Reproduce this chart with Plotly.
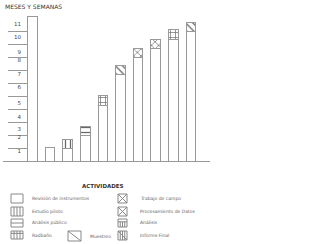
import plotly.graph_objects as go

# ---------------- data ----------------
activities = ["", "Revisión de instrumentos", "Estudio piloto", "Análisis público", "Radbaño",
              "Muestreo", "Trabajo de campo", "Procesamiento de Datos", "Análisis", "Informe Final"]
heights = [11.08, 1.05, 1.69, 2.69, 5.02, 7.38, 8.69, 9.38, 10.08, 10.69]
patterns = ["", "", "|", "-", "+", "\\", "x", "x", "+", "\\"]
tick_text = [str(i) for i in range(1, 12)]
tick_pos = [0.77, 1.85, 2.46, 3.38, 4.46, 5.69, 6.69, 7.77, 8.38, 9.54, 10.54]
grid_lines = list(range(1, 11))
CAP = 0.72

# ---------------- geometry ----------------
W, H = 320, 244
ML, MR, MT, MB = 3, 110, 10, 83
PW, PH = W - ML - MR, H - MT - MB
BOTTOM = H - MB
LINE = "#999999"
TXT = "#333333"
FONT = "DejaVu Sans"


def px(x):
    return (x - ML) / PW


def py(y):
    return (BOTTOM - y) / PH


xs = list(range(len(heights)))
base = [h - CAP if p else h for h, p in zip(heights, patterns)]
caps = [CAP if p else None for p in patterns]

fig = go.Figure()
fig.add_trace(go.Bar(x=xs, y=base, width=0.55, marker=dict(color="white", line=dict(color=LINE, width=1)),
                     hoverinfo="skip", showlegend=False))
fig.add_trace(go.Bar(x=xs, y=caps, width=0.55,
                     marker=dict(color="white", line=dict(color=LINE, width=1),
                                 pattern=dict(shape=patterns, size=5, solidity=0.25,
                                              fgcolor="#666666", bgcolor="white", fillmode="replace")),
                     hoverinfo="skip", showlegend=False))

x0 = -(32.5 - ML) / 17.6
x1 = (210 - 32.5) / 17.6
fig.update_layout(
    barmode="stack", width=W, height=H,
    margin=dict(l=ML, r=MR, t=MT, b=MB, pad=0),
    paper_bgcolor="white", plot_bgcolor="white",
    font=dict(family=FONT, size=6, color=TXT),
    xaxis=dict(range=[x0, x1], showgrid=False, zeroline=False, showticklabels=False,
               ticks="", showline=True, linecolor=LINE, linewidth=1),
    yaxis=dict(range=[0, PH / 13.0], showgrid=False, zeroline=False, showline=False,
               anchor="free", position=px(28), tickmode="array", tickvals=tick_pos, ticktext=tick_text,
               ticks="", ticklabelstandoff=7, tickfont=dict(size=5.5, color="#444444"),
               minor=dict(tickmode="array", tickvals=grid_lines, ticks="outside", ticklen=20,
                          tickcolor=LINE, tickwidth=1)),
)

shapes = []
annotations = []
annotations.append(dict(text="MESES Y SEMANAS", x=px(3), y=py(6), xref="paper", yref="paper",
                        xanchor="left", yanchor="middle", showarrow=False,
                        font=dict(size=6, color=TXT, family=FONT)))
annotations.append(dict(text="<b>ACTIVIDADES</b>", x=px(103), y=py(186), xref="paper", yref="paper",
                        xanchor="center", yanchor="middle", showarrow=False,
                        font=dict(size=5.5, color=TXT, family=FONT)))


def line(xa, ya, xb, yb, color="#888888"):
    shapes.append(dict(type="line", xref="paper", yref="paper", x0=px(xa), y0=py(ya), x1=px(xb), y1=py(yb),
                       line=dict(color=color, width=1)))


def icon(xl, yt, w, h, kind):
    shapes.append(dict(type="rect", xref="paper", yref="paper", x0=px(xl), y0=py(yt), x1=px(xl + w),
                       y1=py(yt + h), line=dict(color="#888888", width=1), fillcolor="white"))
    if kind in ("vert", "grid", "inf"):
        for k in (1, 2, 3):
            xv = xl + w * k / 4
            line(xv, yt, xv, yt + h)
    if kind == "ana":
        for k in (1, 2, 3):
            xv = xl + w * k / 4
            line(xv, yt + h * 0.35, xv, yt + h)
        line(xl, yt + h * 0.35, xl + w, yt + h * 0.35)
    if kind == "hor":
        line(xl, yt + h / 2, xl + w, yt + h / 2)
    if kind == "grid":
        line(xl, yt + h * 0.3, xl + w, yt + h * 0.3)
    if kind in ("diag", "inf", "x"):
        line(xl, yt, xl + w, yt + h)
    if kind == "x":
        line(xl, yt + h, xl + w, yt)


def label(x, y, text):
    annotations.append(dict(text=text, x=px(x), y=py(y), xref="paper", yref="paper", xanchor="left",
                            yanchor="middle", showarrow=False, font=dict(size=4.5, color="#666666", family=FONT)))


legend_items = [
    (11, 194, 12, 9, "plain", 30, activities[1]),
    (11, 207, 12, 9, "vert", 30, activities[2]),
    (11, 219, 12, 8, "hor", 30, activities[3]),
    (11, 231, 12, 8, "grid", 30, activities[4]),
    (68, 231, 13, 10, "diag", 88, activities[5]),
    (118, 194, 9, 9, "x", 138, activities[6]),
    (118, 207, 9, 9, "x", 138, activities[7]),
    (118, 219, 9, 8, "ana", 138, activities[8]),
    (118, 231, 9, 9, "inf", 138, activities[9]),
]
for xl, yt, w, h, kind, tx, text in legend_items:
    icon(xl, yt, w, h, kind)
    label(tx, yt + h / 2, text)

fig.update_layout(shapes=shapes, annotations=annotations)
fig.write_html("out.html")
